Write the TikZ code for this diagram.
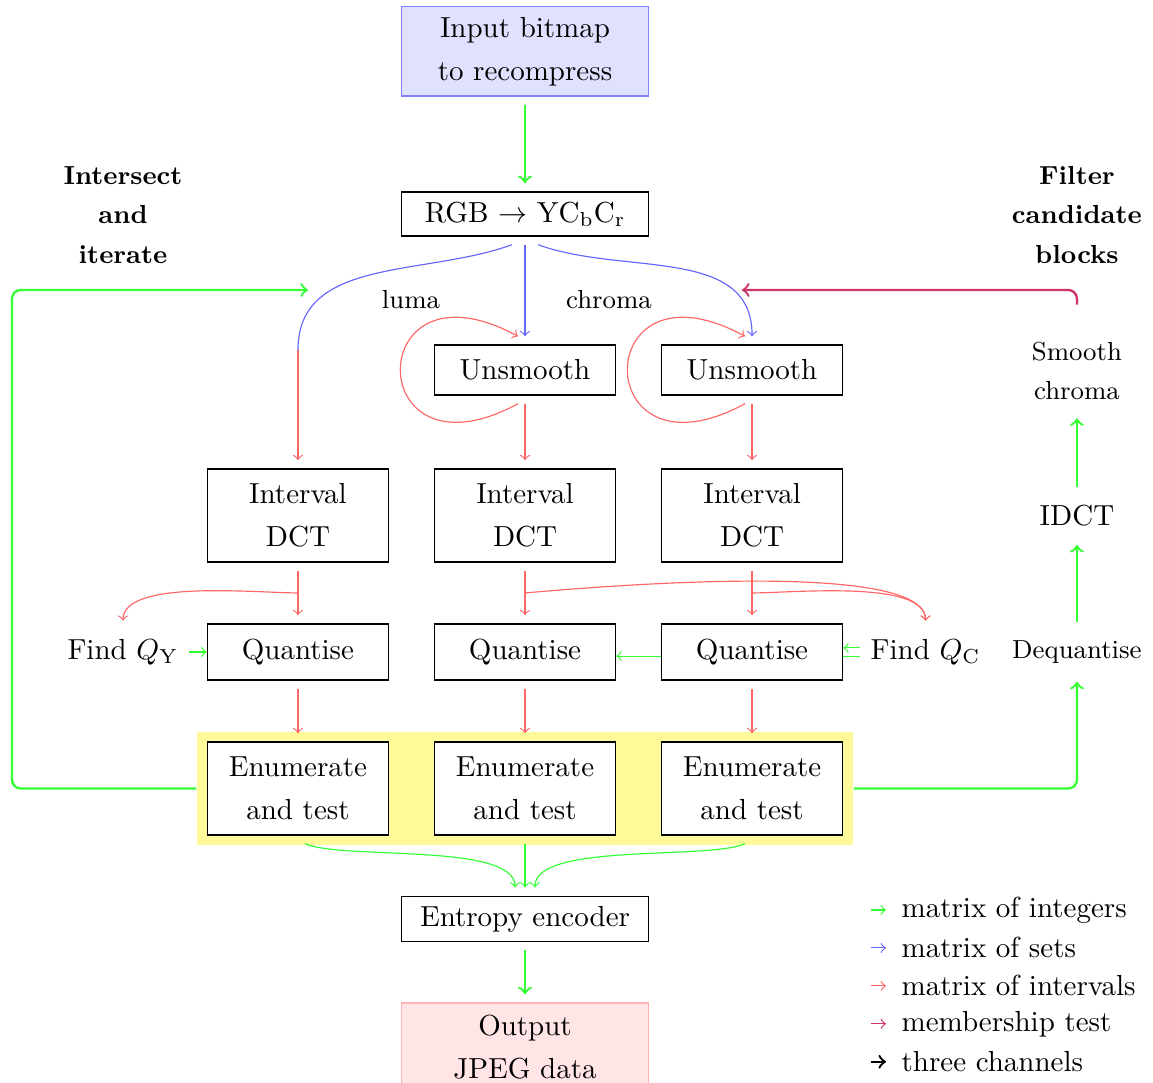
\documentclass[tikz,border=0pt]{standalone}
\usetikzlibrary{calc,fit,backgrounds}
\linespread{1.23}

\tikzset{
  box/.style={draw, fill=white, align=center, minimum width=2.2cm, outer ysep=3pt},
  lbl/.style={align=center, outer ysep=3pt},
  ints/.style={->, green!80},
  sets/.style={->, blue!60},
  intv/.style={->, red!60},
  member/.style={->, thick, purple!80, rounded corners=3pt},
  loopback/.style={->, thick, green!80, rounded corners=3pt}
}

\begin{document}
\begin{tikzpicture}[font=\normalsize]
    \useasboundingbox (-6.364,0) rectangle (7.612,-13.127);

    % main column
    \node[box, fill=blue!12, draw=blue!50, minimum width=3cm, minimum height=1.08cm] (input) at (0,-0.624) {Input bitmap\\to recompress};
    \node[box, minimum width=3cm, minimum height=0.533cm] (rgb) at (0,-2.594) {RGB $\rightarrow$ Y$\mathrm{C_bC_r}$};

    \node[box, minimum height=0.606cm] (unsm2) at (0,-4.485) {Unsmooth};
    \node[box, minimum height=0.606cm] (unsm3) at (2.752,-4.485) {Unsmooth};

    \node[box, minimum height=1.127cm] (dct1) at (-2.752,-6.248) {Interval\\DCT};
    \node[box, minimum height=1.127cm] (dct2) at (0,-6.248) {Interval\\DCT};
    \node[box, minimum height=1.127cm] (dct3) at (2.752,-6.248) {Interval\\DCT};

    \node[box, minimum height=0.679cm] (quant1) at (-2.752,-7.903) {Quantise};
    \node[box, minimum height=0.679cm] (quant2) at (0,-7.903) {Quantise};
    \node[box, minimum height=0.679cm] (quant3) at (2.752,-7.903) {Quantise};

    \node[box, minimum height=1.127cm] (enum1) at (-2.752,-9.558) {Enumerate\\and test};
    \node[box, minimum height=1.127cm] (enum2) at (0,-9.558) {Enumerate\\and test};
    \node[box, minimum height=1.127cm] (enum3) at (2.752,-9.558) {Enumerate\\and test};

    \node[box, minimum width=3cm, minimum height=0.533cm] (entropy) at (0,-11.139) {Entropy encoder};
    \node[box, fill=red!10, draw=red!30, minimum width=3cm, minimum height=1.08cm] (output) at (0,-12.697) {Output\\JPEG data};

    % side labels
    \node[lbl] (findqy) at (-4.873,-7.903) {Find $Q_\mathrm{Y}$};
    \node[lbl] (findqc) at (4.855,-7.903) {Find $Q_\mathrm{C}$};
    \node[lbl, font=\small] (dequant) at (6.69,-7.903) {Dequantise};
    \node[lbl] (idct) at (6.69,-6.255) {IDCT};
    \node[lbl, font=\small] (smooth) at (6.69,-4.497) {Smooth\\chroma};
    \node[lbl, font=\small\bfseries] (intersect) at (-4.873,-2.606) {Intersect\\and\\iterate};
    \node[lbl, font=\small\bfseries] (filter) at (6.69,-2.606) {Filter\\candidate\\blocks};
    \node[font=\small] (luma) at (-1.382,-3.636) {luma};
    \node[font=\small] (chroma) at (1.018,-3.636) {chroma};

    \coordinate (lumapt) at (-2.752,-4.242);
    \coordinate (iterate) at (-2.63,-3.515);
    \coordinate (loopcorner) at (-6.218,-3.515);
    \coordinate (filtered) at (2.63,-3.515);

    \begin{scope}[on background layer]
        \node[fit=(enum1)(enum3), fill=yellow!40, inner xsep=3.45pt, inner ysep=0.5pt] (enumbg) {};
        \draw[ints] ([yshift=-0.05cm]findqc.west) -- ([yshift=-0.05cm]quant2.east);
    \end{scope}

    % three channels in and out
    \draw[ints, thick] (input) -- (rgb);
    \draw[ints, thick] (entropy) -- (output);

    % split
    \draw[sets, -] ([xshift=-0.16cm]rgb.south) to[out=-160, in=90] (lumapt);
    \draw[intv] (lumapt) -- (dct1);
    \draw[sets] (rgb) -- (unsm2);
    \draw[sets] ([xshift=0.16cm]rgb.south) to[out=-20, in=90] (unsm3.north);

    % unsmoothing loops
    \foreach \c in {2,3} {
        \draw[intv] ([xshift=-0.085cm]unsm\c.south) .. controls +(-1.9,-1.03) and +(-1.9,1.03) .. ([xshift=-0.085cm]unsm\c.north);
        \draw[intv] (unsm\c) -- (dct\c);
    }

    \foreach \c in {1,2,3} {
        \draw[intv] (dct\c) -- (quant\c);
        \draw[intv] (quant\c) -- (enum\c);
        \coordinate (split\c) at ($(dct\c.south)!0.5!(quant\c.north)$);
    }

    % quantisation tables
    \draw[intv] (split1) to[out=180, in=90, looseness=0.6] (findqy.north);
    \draw[intv] (split2) to[out=5, in=90, looseness=0.4] (findqc.north);
    \draw[intv] (split3) to[out=0, in=90, looseness=0.6] (findqc.north);
    \draw[ints] (findqy) -- (quant1);
    \draw[ints] ([yshift=0.05cm]findqc.west) -- ([yshift=0.05cm]quant3.east);

    % to the encoder
    \draw[ints] ([xshift=0.085cm]enum1.south) .. controls +(0.45,-0.2) and +(0,0.55) .. ([xshift=-0.12cm]entropy.north);
    \draw[ints] (enum2) -- (entropy);
    \draw[ints] ([xshift=-0.085cm]enum3.south) .. controls +(-0.45,-0.2) and +(0,0.55) .. ([xshift=0.12cm]entropy.north);

    % feedback
    \draw[loopback] (enumbg.west) -| (loopcorner) -- (iterate);
    \draw[loopback] (enumbg.east) -| (dequant.south);
    \draw[ints, thick] (dequant) -- (idct);
    \draw[ints, thick] (idct) -- (smooth);
    \draw[member] ([yshift=0.23cm]smooth.north) |- (filtered);

    % legend
    \node[anchor=west] (key1) at (4.441,-11.03) {matrix of integers};
    \node[anchor=west] (key2) at (4.441,-11.49) {matrix of sets};
    \node[anchor=west] (key3) at (4.441,-11.95) {matrix of intervals};
    \node[anchor=west] (key4) at (4.441,-12.41) {membership test};
    \node[anchor=west] (key5) at (4.441,-12.87) {three channels};
    \draw[ints] ([xshift=-0.25cm]key1.west) -- ([xshift=-0.065cm]key1.west);
    \draw[sets] ([xshift=-0.25cm]key2.west) -- ([xshift=-0.065cm]key2.west);
    \draw[intv] ([xshift=-0.25cm]key3.west) -- ([xshift=-0.065cm]key3.west);
    \draw[->, purple!80] ([xshift=-0.25cm]key4.west) -- ([xshift=-0.065cm]key4.west);
    \draw[->, thick] ([xshift=-0.25cm]key5.west) -- ([xshift=-0.065cm]key5.west);
\end{tikzpicture}
\end{document}
